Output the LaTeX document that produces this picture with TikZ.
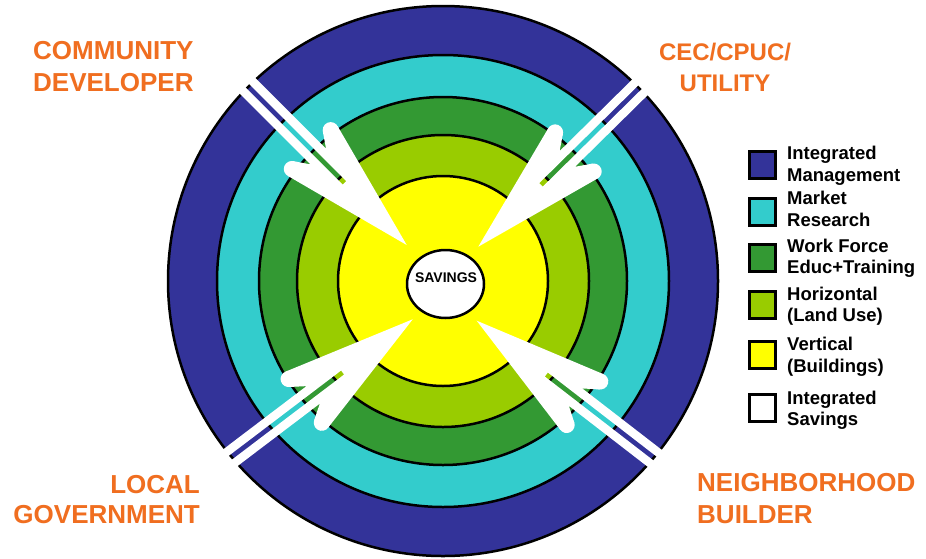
\documentclass[tikz,border=0pt]{standalone}
\usepackage{fontspec}
\setmainfont{Liberation Sans}
\definecolor{imblue}{RGB}{51,51,153}
\definecolor{mrcyan}{RGB}{51,204,204}
\definecolor{wfgreen}{RGB}{51,153,51}
\definecolor{hlgreen}{RGB}{153,204,0}
\definecolor{vyellow}{RGB}{255,255,0}
\definecolor{lblorange}{RGB}{240,110,32}
\begin{document}
\begin{tikzpicture}[x=1pt,y=-1pt,
  ring/.style={draw=black,line width=2.5pt},
  actor/.style={text=lblorange,inner sep=0pt},
  legbox/.style={draw=black,line width=3pt,minimum width=26pt,minimum height=27pt,inner sep=0pt},
  legtext/.style={font=\fontsize{18.5}{21.5}\selectfont\bfseries,align=left,anchor=west,inner sep=0pt},
  bigarr/.pic={
    \fill[white] (0,0) -- (133,35.2) -- (139.66,21) -- (125,11) -- (262,11) -- (262,2.5)
      -- (88,2.5) -- (88,-2.5) -- (262,-2.5) -- (262,-11) -- (125,-11) -- (139.66,-21)
      -- (133,-35.2) -- cycle;
    \fill[white] (135,27.5) circle[radius=8pt];
    \fill[white] (135,-27.5) circle[radius=8pt];
  }]
\useasboundingbox (0,0) rectangle (926,558);
\fill[white] (0,0) rectangle (926,558);
% rings
\draw[ring,fill=imblue]  (443,281) circle[radius=275pt];
\draw[ring,fill=mrcyan]  (443,281) circle[radius=226pt];
\draw[ring,fill=wfgreen] (443,281) circle[radius=184pt];
\draw[ring,fill=hlgreen] (443,281) circle[radius=146pt];
\draw[ring,fill=vyellow] (443,281) circle[radius=105pt];
% arrows
\pic[rotate=135]   at (406.7,245.0) {bigarr};
\pic[rotate=44.6]  at (478.3,246.7) {bigarr};
\pic[rotate=217.2] at (412.7,319.3) {bigarr};
\pic[rotate=322.3] at (476.7,320.7) {bigarr};
% center
\draw[ring,fill=white] (445.5,284) ellipse[x radius=38.5, y radius=34];
\node[inner sep=0pt,font=\fontsize{14}{14}\selectfont\bfseries] (sav) at (446,278) {SAVINGS};
% actor labels
\node[actor,font=\fontsize{26}{32}\selectfont\bfseries,align=left,anchor=west] (cd) at (33,67) {COMMUNITY\\DEVELOPER};
\node[actor,font=\fontsize{24}{31}\selectfont\bfseries,align=center] (cec) at (725,67) {CEC/CPUC/\\UTILITY};
\node[actor,font=\fontsize{26}{30}\selectfont\bfseries,align=right,anchor=east] (lg) at (200,500) {LOCAL\\GOVERNMENT};
\node[actor,font=\fontsize{26}{32}\selectfont\bfseries,align=left,anchor=west] (nb) at (697,499) {NEIGHBORHOOD\\BUILDER};
% legend
\node[legbox,fill=imblue]  (b1) at (762.5,165) {};
\node[legbox,fill=mrcyan]  (b2) at (762.5,211.5) {};
\node[legbox,fill=wfgreen] (b3) at (762.5,258) {};
\node[legbox,fill=hlgreen] (b4) at (762.5,305) {};
\node[legbox,fill=vyellow] (b5) at (762.5,355) {};
\node[legbox,fill=white]   (b6) at (762.5,407.5) {};
\node[legtext] (t1) at (787,166) {Integrated\\Management};
\node[legtext] (t2) at (787,209) {Market\\Research};
\node[legtext] (t3) at (787,258) {Work Force\\Educ+Training};
\node[legtext] (t4) at (787,306) {Horizontal\\(Land Use)};
\node[legtext] (t5) at (787,356.5) {Vertical\\(Buildings)};
\node[legtext] (t6) at (787,410) {Integrated\\Savings};
\end{tikzpicture}
\end{document}
